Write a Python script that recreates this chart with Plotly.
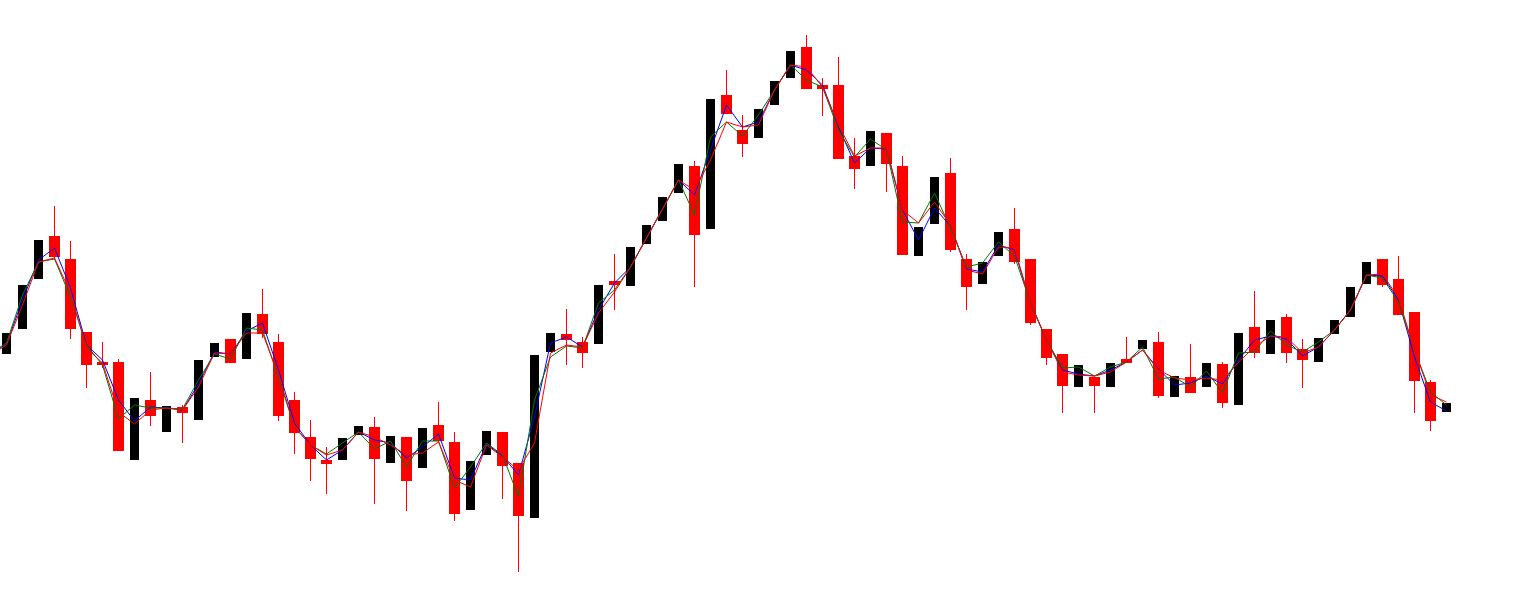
import plotly.graph_objects as go

# Candle data (price units), index = bar number
opens = [246, 271, 321, 364, 341, 268, 238, 238, 140, 200, 168, 193, 180, 243, 261, 241, 286, 258, 200, 163,
         140, 140, 165, 173, 137, 163, 132, 175, 158, 90, 145, 168, 137, 82, 248, 266, 258, 256, 319, 314,
         356, 379, 407, 434, 371, 505, 470, 462, 495, 522, 553, 515, 515, 444, 434, 467, 434, 344, 376, 427,
         341, 316, 344, 371, 341, 271, 246, 213, 223, 213, 241, 251, 258, 203, 223, 213, 236, 195, 273, 246,
         283, 251, 238, 266, 283, 316, 341, 321, 288, 218, 188]
closes = [267, 315, 360, 343, 271, 235, 235, 149, 202, 184, 194, 187, 240, 257, 237, 287, 266, 184, 167, 141,
          136, 162, 174, 141, 164, 119, 172, 159, 86, 139, 169, 134, 84, 245, 267, 260, 247, 315, 315, 353,
          375, 403, 436, 365, 501, 486, 456, 491, 519, 549, 511, 511, 441, 431, 469, 436, 345, 373, 423, 350,
          313, 338, 368, 338, 277, 242, 214, 235, 214, 237, 237, 260, 204, 224, 207, 237, 197, 267, 247, 280,
          247, 240, 262, 280, 313, 338, 315, 285, 219, 179, 197]
highs = [267, 315, 360, 394, 359, 268, 258, 241, 202, 228, 194, 195, 240, 257, 261, 287, 311, 266, 208, 180,
         153, 162, 174, 183, 164, 163, 172, 198, 168, 139, 169, 168, 137, 245, 267, 291, 263, 315, 346, 353,
         375, 403, 436, 439, 501, 530, 485, 491, 519, 549, 565, 522, 543, 462, 469, 467, 444, 373, 423, 442,
         346, 338, 368, 392, 341, 271, 246, 235, 223, 237, 263, 260, 268, 224, 256, 237, 238, 267, 309, 280,
         286, 261, 262, 280, 313, 338, 341, 344, 288, 220, 197]
lows = [246, 271, 321, 340, 261, 212, 232, 149, 140, 174, 168, 157, 180, 243, 237, 241, 262, 179, 146, 119,
        106, 140, 165, 96, 137, 89, 132, 159, 79, 90, 145, 101, 28, 82, 248, 235, 232, 256, 290, 314,
        356, 379, 407, 313, 371, 486, 443, 462, 495, 522, 511, 484, 441, 411, 434, 408, 345, 344, 376, 348,
        290, 316, 344, 336, 275, 235, 187, 213, 187, 213, 237, 251, 202, 203, 207, 213, 192, 195, 242, 246,
        237, 212, 238, 266, 283, 316, 313, 285, 187, 169, 188]

# Indicator lines (first value belongs to the bar just before the visible window, index -1)
ma_green = [247, 257, 305, 338, 341, 303, 255, 235, 181, 195, 192, 192, 191, 220, 246, 241, 272, 270, 222, 173, 155,
            146, 157, 168, 151, 159, 133, 159, 159, 112, 133, 157, 145, 103, 200, 243, 254, 252, 297, 310, 333,
            362, 392, 420, 385, 463, 478, 464, 485, 510, 535, 520, 513, 470, 443, 461, 450, 378, 377, 407, 372,
            333, 337, 358, 344, 297, 260, 232, 233, 224, 233, 238, 253, 221, 223, 213, 229, 207, 247, 248, 269,
            255, 248, 258, 270, 290, 325, 322, 298, 250, 208, 195]
ma_red = [245, 255, 295, 338, 342, 307, 252, 237, 188, 176, 190, 192, 190, 213, 247, 246, 267, 267, 225, 173, 155,
          145, 150, 168, 163, 155, 145, 147, 158, 120, 113, 155, 143, 130, 157, 247, 255, 253, 287, 308, 333,
          362, 392, 420, 410, 440, 478, 473, 475, 510, 535, 533, 513, 475, 444, 452, 452, 390, 377, 398, 375,
          330, 326, 353, 352, 297, 260, 228, 225, 224, 228, 238, 250, 230, 222, 220, 222, 220, 238, 253, 264,
          263, 247, 253, 270, 290, 325, 326, 302, 250, 205, 198]
ma_blue = [246, 256, 300, 340, 352, 312, 255, 240, 200, 179, 193, 192, 190, 216, 248, 246, 269, 277, 230, 177, 155,
           140, 150, 168, 160, 157, 142, 153, 166, 122, 120, 156, 144, 125, 183, 257, 263, 253, 290, 317, 333,
           362, 392, 420, 405, 450, 495, 473, 478, 510, 535, 530, 515, 473, 437, 452, 451, 390, 360, 392, 374,
           331, 328, 355, 350, 297, 260, 230, 226, 224, 230, 238, 250, 231, 215, 217, 224, 216, 240, 260, 264,
           261, 244, 253, 270, 290, 325, 324, 300, 243, 198, 189]

idx = list(range(len(opens)))
line_x = list(range(-1, len(opens)))
up = [i for i in idx if closes[i] >= opens[i]]
dn = [i for i in idx if closes[i] < opens[i]]

fig = go.Figure()

# red wicks
wx, wy = [], []
for i in dn:
    wx += [i, i, None]
    wy += [lows[i], highs[i], None]
fig.add_trace(go.Scatter(x=wx, y=wy, mode="lines", line=dict(color="#ff0000", width=1),
                         hoverinfo="skip", showlegend=False))

# bodies
fig.add_trace(go.Bar(x=dn, y=[opens[i] - closes[i] for i in dn], base=[closes[i] for i in dn],
                     width=0.69, marker=dict(color="#ff0000", line=dict(width=0)), showlegend=False))
fig.add_trace(go.Bar(x=up, y=[closes[i] - opens[i] for i in up], base=[opens[i] for i in up],
                     width=0.57, marker=dict(color="#000000", line=dict(width=0)), showlegend=False))

fig.add_trace(go.Scatter(x=line_x, y=ma_blue, mode="lines", line=dict(color="#0000ff", width=1), showlegend=False))
fig.add_trace(go.Scatter(x=line_x, y=ma_green, mode="lines", line=dict(color="#007800", width=1), showlegend=False))
fig.add_trace(go.Scatter(x=line_x, y=ma_red, mode="lines", line=dict(color="#ff0000", width=1), showlegend=False))

fig.update_layout(
    width=1519, height=615,
    margin=dict(l=0, r=0, t=0, b=0),
    paper_bgcolor="white", plot_bgcolor="white",
    barmode="overlay", bargap=0,
    xaxis=dict(range=[-6.5 / 16, (1519 - 6.5) / 16], visible=False),
    yaxis=dict(range=[-15, 600], visible=False),
)

fig.write_html("out.html", config={"displayModeBar": False},
               post_script="document.body.style.margin='0';document.body.style.overflow='hidden';")
